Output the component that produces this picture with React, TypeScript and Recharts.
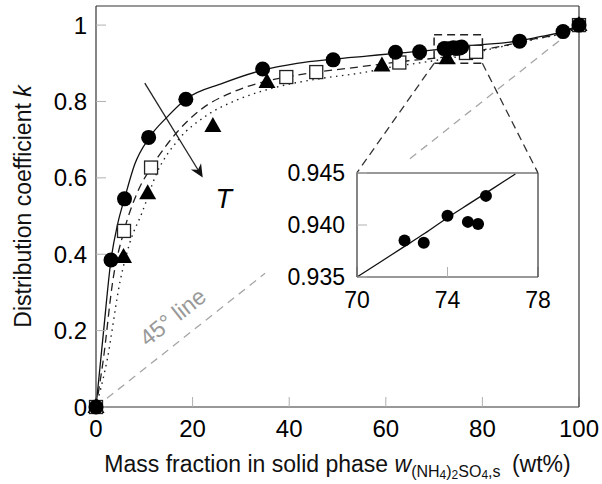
import React from "react";
import { ComposedChart, Line, Scatter, XAxis, YAxis, ReferenceLine, ReferenceArea, Label } from "recharts";

const FONT = '"Liberation Sans", Arial, Helvetica, sans-serif';

// measured points (wt%, k)
const circleX = [0, 3.1, 5.9, 10.9, 18.6, 34.5, 49.1, 62.0, 67.0, 72.1, 72.95, 74.0, 74.9, 75.35, 75.7, 87.7, 96.7, 100];
const circleK = [0, 0.385, 0.545, 0.706, 0.806, 0.885, 0.909, 0.929, 0.93, 0.9385, 0.9383, 0.9409, 0.9403, 0.9401, 0.9428, 0.958, 0.983, 1.0];

const squareX = [0, 5.8, 11.4, 39.4, 45.6, 62.8, 76.6, 78.7, 100];
const squareK = [0, 0.461, 0.627, 0.864, 0.877, 0.902, 0.927, 0.93, 1.0];

const triangleX = [0, 5.7, 10.7, 24.2, 35.4, 59.2, 72.7, 100];
const triangleK = [0, 0.393, 0.56, 0.736, 0.851, 0.894, 0.913, 1.0];

// fitted curves
const solidX = [0, 1.5, 3.1, 4.5, 6, 8, 11, 14.7, 18.6, 26.3, 34.5, 41.6, 49.1, 56, 62, 70, 77, 79.5, 87.7, 91.2, 96.7, 100];
const solidK = [0, 0.19, 0.385, 0.48, 0.55, 0.635, 0.705, 0.759, 0.806, 0.848, 0.882, 0.9, 0.911, 0.919, 0.926, 0.935, 0.945, 0.948, 0.959, 0.968, 0.983, 1.0];

const dashedX = [0, 1.5, 3.5, 5.8, 8.5, 11.4, 12.8, 16.8, 21.5, 28.4, 34.6, 39.4, 45.6, 52.2, 57.3, 64.3, 72, 77, 81.6, 86, 91.2, 96, 100];
const dashedK = [0, 0.123, 0.332, 0.461, 0.56, 0.627, 0.654, 0.72, 0.777, 0.825, 0.851, 0.864, 0.877, 0.887, 0.895, 0.906, 0.916, 0.926, 0.939, 0.95, 0.965, 0.977, 1.0];

const dottedX = [0, 2.3, 5, 7, 9.5, 12.6, 17, 23, 29.2, 37.5, 47, 55, 62, 67, 72, 77, 81.6, 86, 91.2, 96, 100];
const dottedK = [0, 0.123, 0.33, 0.43, 0.508, 0.613, 0.699, 0.764, 0.804, 0.838, 0.861, 0.875, 0.892, 0.901, 0.911, 0.922, 0.937, 0.949, 0.964, 0.977, 1.0];

// inset (zoom of 70-78 wt%)
const insetX = [72.1, 72.95, 74.0, 74.9, 75.35, 75.7];
const insetK = [0.9385, 0.9383, 0.9409, 0.9403, 0.9401, 0.9428];
const insetFitX = [70, 71, 72, 73, 74, 75, 76, 77];
const insetFitK = [0.935, 0.9364, 0.9378, 0.9392, 0.9407, 0.9421, 0.9435, 0.9449];

const xTicks = [0, 20, 40, 60, 80, 100];
const yTicks = [0, 0.2, 0.4, 0.6, 0.8, 1];
const insetXTicks = [70, 74, 78];
const insetYTicks = [0.935, 0.94, 0.945];

const pts = (xs: number[], ys: number[]) => xs.map((x, i) => ({ x, y: ys[i] }));

const dot = (r: number) => (p: any) => <circle cx={p.cx} cy={p.cy} r={r} fill="#000" />;
const openSquare = (p: any) => (
  <rect x={p.cx - 6.5} y={p.cy - 6.5} width={13} height={13} fill="#fff" stroke="#222" strokeWidth={1.3} />
);
const triangle = (p: any) => (
  <polygon points={`${p.cx},${p.cy - 9} ${p.cx + 8.5},${p.cy + 6} ${p.cx - 8.5},${p.cy + 6}`} fill="#000" />
);

const diagLabelShape = (p: any) => {
  const { x1, y1, x2, y2 } = p;
  const dx = x2 - x1, dy = y2 - y1;
  const len = Math.hypot(dx, dy);
  const ux = dx / len, uy = dy / len;
  const cx = x1 + 116 * ux + 23 * uy;
  const cy = y1 + 116 * uy - 23 * ux;
  const ang = (Math.atan2(dy, dx) * 180) / Math.PI;
  return (
    <g>
      <line x1={x1} y1={y1} x2={x2} y2={y2} stroke="#a6a6a6" strokeWidth={1.3} strokeDasharray="8 6" />
      <text x={cx} y={cy} transform={`rotate(${ang} ${cx} ${cy})`} textAnchor="middle" dominantBaseline="central"
        fontSize={23} fill="#999" fontFamily={FONT}>45° line</text>
    </g>
  );
};

const arrowShape = (p: any) => {
  const { x1, y1, x2, y2 } = p;
  const a = Math.atan2(y2 - y1, x2 - x1);
  const c = Math.cos(a), s = Math.sin(a);
  const L = 13, W = 6;
  const bx = x2 - L * c, by = y2 - L * s;
  const nx = x2 - 0.7 * L * c, ny = y2 - 0.7 * L * s;
  return (
    <g>
      <line x1={x1} y1={y1} x2={nx} y2={ny} stroke="#222" strokeWidth={1.3} />
      <polygon points={`${x2},${y2} ${bx - W * s},${by + W * c} ${nx},${ny} ${bx + W * s},${by - W * c}`} fill="#111" />
      <text x={x2 + 21} y={y2 + 31} textAnchor="middle" fontStyle="italic" fontSize={27} fontFamily={FONT}>T</text>
    </g>
  );
};

const XTitle = (p: any) => {
  const vb = p.viewBox;
  return (
    <text x={vb.x + vb.width / 2} y={vb.y + 65} textAnchor="middle" fontSize={23} fontFamily={FONT} fill="#111">
      Mass fraction in solid phase <tspan fontStyle="italic">w</tspan>
      <tspan fontSize={16} dy={5}>(NH</tspan>
      <tspan fontSize={12} dy={2}>4</tspan>
      <tspan fontSize={16} dy={-2}>)</tspan>
      <tspan fontSize={12} dy={2}>2</tspan>
      <tspan fontSize={16} dy={-2}>SO</tspan>
      <tspan fontSize={12} dy={2}>4</tspan>
      <tspan fontSize={16} dy={-2}>,s</tspan>
      <tspan dy={-5} dx={5}>{"\u00a0(wt%)"}</tspan>
    </text>
  );
};

const YTitle = (p: any) => {
  const vb = p.viewBox;
  const x = vb.x + 23, y = vb.y + vb.height / 2;
  return (
    <text x={x} y={y} transform={`rotate(-90 ${x} ${y})`} textAnchor="middle" dominantBaseline="central"
      fontSize={23} fontFamily={FONT} fill="#111">
      Distribution coefficient <tspan fontStyle="italic">k</tspan>
    </text>
  );
};

const axisStyle = { stroke: "#333", strokeWidth: 1.2 };
const tickStyle = { stroke: "#b0b0b0", strokeWidth: 1 };
const blank = () => "";

export default function App() {
  const tick = { fill: "#000", fontSize: 24, fontFamily: FONT };
  const insetTick = { fill: "#000", fontSize: 23, fontFamily: FONT };
  return (
    <div style={{ position: "absolute", left: 0, top: 0, width: 602, height: 484, background: "#fff" }}>
      <ComposedChart width={602} height={484} margin={{ top: 5, right: 22, bottom: 0, left: 0 }}>
        <XAxis dataKey="x" type="number" domain={[0, 100]} ticks={xTicks} height={77} tickSize={-10} tickMargin={23}
          tick={tick} axisLine={axisStyle} tickLine={tickStyle}>
          <Label content={XTitle} />
        </XAxis>
        <XAxis xAxisId="top" orientation="top" type="number" domain={[0, 100]} ticks={xTicks} height={1} tickSize={-10}
          tickFormatter={blank} axisLine={axisStyle} tickLine={tickStyle} />
        <YAxis dataKey="y" type="number" domain={[0, 1.05]} ticks={yTicks} width={96} tickSize={-10} tickMargin={19}
          tick={tick} axisLine={axisStyle} tickLine={tickStyle}>
          <Label content={YTitle} />
        </YAxis>
        <YAxis yAxisId="right" orientation="right" type="number" domain={[0, 1.05]} ticks={yTicks} width={1} tickSize={-10}
          tickFormatter={blank} axisLine={axisStyle} tickLine={tickStyle} />

        <ReferenceLine segment={[{ x: 0, y: 0 }, { x: 35, y: 0.35 }]} shape={diagLabelShape} />
        <ReferenceLine segment={[{ x: 65, y: 0.65 }, { x: 100, y: 1 }]} stroke="#a6a6a6" strokeWidth={1.3} strokeDasharray="8 6" />

        <ReferenceArea x1={70} x2={80} y1={0.9} y2={0.975} fill="none" fillOpacity={0} stroke="#222" strokeWidth={1.5} strokeDasharray="8 5" />
        <ReferenceLine segment={[{ x: 70, y: 0.9 }, { x: 54.0, y: 0.613 }]} stroke="#333" strokeWidth={1.3} strokeDasharray="8 5" />
        <ReferenceLine segment={[{ x: 80, y: 0.9 }, { x: 91.5, y: 0.613 }]} stroke="#333" strokeWidth={1.3} strokeDasharray="8 5" />

        <ReferenceLine segment={[{ x: 10.1, y: 0.848 }, { x: 22.1, y: 0.601 }]} shape={arrowShape} />

        <Line data={pts(dottedX, dottedK)} dataKey="y" type="monotone" stroke="#222" strokeWidth={1.4} strokeDasharray="1.5 4.5"
          dot={false} activeDot={false} isAnimationActive={false} />
        <Line data={pts(dashedX, dashedK)} dataKey="y" type="monotone" stroke="#222" strokeWidth={1.3} strokeDasharray="8 5"
          dot={false} activeDot={false} isAnimationActive={false} />
        <Line data={pts(solidX, solidK)} dataKey="y" type="monotone" stroke="#111" strokeWidth={1.3}
          dot={false} activeDot={false} isAnimationActive={false} />

        <Scatter data={pts(triangleX, triangleK)} dataKey="y" shape={triangle} isAnimationActive={false} />
        <Scatter data={pts(squareX, squareK)} dataKey="y" shape={openSquare} isAnimationActive={false} />
        <Scatter data={pts(circleX, circleK)} dataKey="y" shape={dot(7.5)} isAnimationActive={false} />
      </ComposedChart>

      <div style={{ position: "absolute", left: 262, top: 160 }}>
        <ComposedChart width={290} height={160} margin={{ top: 12, right: 13, bottom: 0, left: 0 }}>
          <XAxis dataKey="x" type="number" domain={[70, 78]} ticks={insetXTicks} height={43} tickSize={-10} tickMargin={25}
            tick={insetTick} axisLine={axisStyle} tickLine={tickStyle} />
          <XAxis xAxisId="top" orientation="top" type="number" domain={[70, 78]} ticks={insetXTicks} height={1} tickSize={-10}
            tickFormatter={blank} axisLine={axisStyle} tickLine={tickStyle} />
          <YAxis dataKey="y" type="number" domain={[0.935, 0.945]} ticks={insetYTicks} width={95} tickSize={-10} tickMargin={22}
            tick={insetTick} tickFormatter={(v: number) => v.toFixed(3)} axisLine={axisStyle} tickLine={tickStyle} />
          <YAxis yAxisId="right" orientation="right" type="number" domain={[0.935, 0.945]} ticks={insetYTicks} width={1}
            tickSize={-10} tickFormatter={blank} axisLine={axisStyle} tickLine={tickStyle} />
          <Line data={pts(insetFitX, insetFitK)} dataKey="y" type="monotone" stroke="#111" strokeWidth={1.3}
            dot={false} activeDot={false} isAnimationActive={false} />
          <Scatter data={pts(insetX, insetK)} dataKey="y" shape={dot(6)} isAnimationActive={false} />
        </ComposedChart>
      </div>
    </div>
  );
}
